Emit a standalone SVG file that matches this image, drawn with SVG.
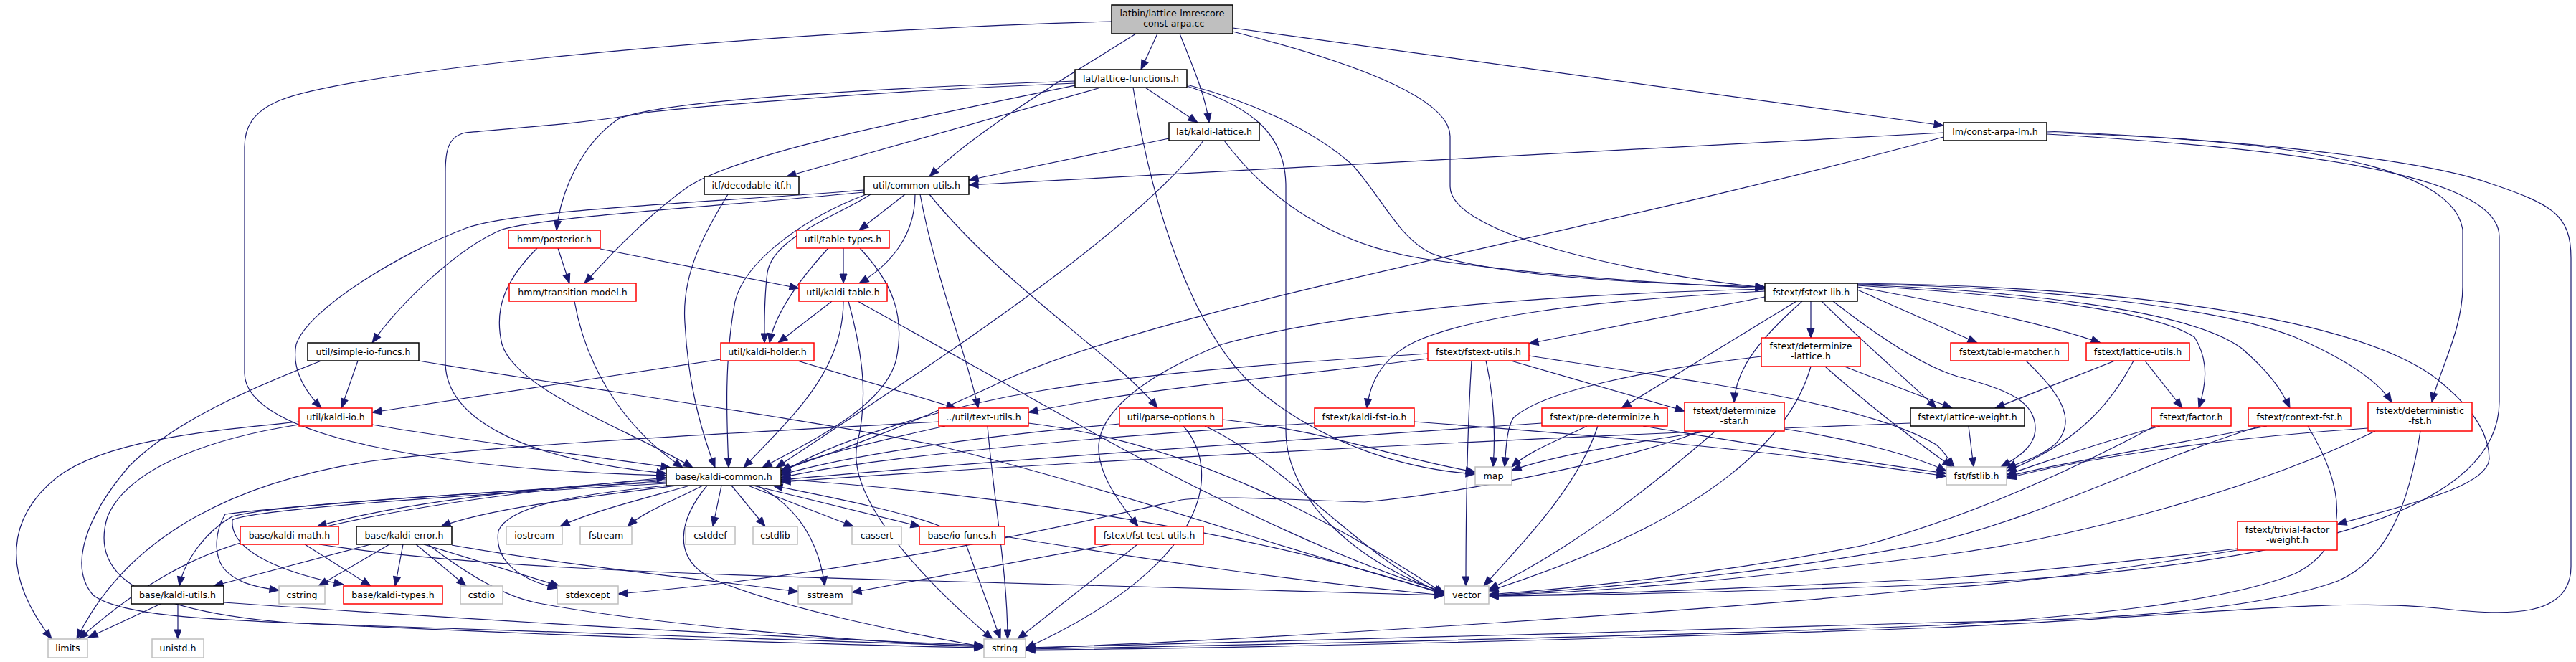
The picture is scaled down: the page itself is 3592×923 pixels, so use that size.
<svg xmlns="http://www.w3.org/2000/svg" width="3592" height="923" viewBox="0 0 3592 923">
<style>
.e path{fill:none;stroke:#191970;stroke-width:1.2;marker-end:url(#a)}
rect{fill:#fff;stroke-width:1.5}
.b rect{stroke:#000}
.r rect{stroke:#ff0000}
.g rect{stroke:#bfbfbf}
.root rect{fill:#bfbfbf;stroke:#000}
text{font-family:"DejaVu Sans","Liberation Sans",sans-serif;font-size:12.6px;fill:#000;text-anchor:middle}
</style>
<defs>
<marker id="a" markerUnits="userSpaceOnUse" markerWidth="15" markerHeight="12" refX="13" refY="5.5" orient="auto" overflow="visible"><path d="M0,0.5L13,5.5L0,10.5z" fill="#191970" stroke="#191970" stroke-width="1"/></marker>
</defs>
<rect x="0" y="0" width="3592" height="923" style="fill:#fff;stroke:none"/>
<g id="edges" class="e">
<path d="M1550,30 C1100,42 500,95 390,140 C352,156 341,178 341,205 L341,520 C341,610 620,655 929,663"/>
<path d="M1614,47 L1591,97"/>
<path d="M1645,47 C1662,90 1680,130 1686,171"/>
<path d="M1584,47 C1500,100 1370,175 1296,246"/>
<path d="M1719,39 L2710,175"/>
<path d="M1719,44 C1900,90 2022,140 2022,190 L2022,260 C2022,330 2300,385 2461,401"/>
<path d="M1597,122 L1670,171"/>
<path d="M1535,122 L1097,246"/>
<path d="M1499,113 C1200,124 920,140 862,166 C812,200 782,265 776,321"/>
<path d="M1499,116 C1200,128 960,150 900,157 C840,170 700,180 649,185 C625,190 621,210 621,240 L621,505 C621,580 720,640 929,660"/>
<path d="M1499,119 C1250,170 1030,215 960,260 C910,295 860,345 815,395"/>
<path d="M1580,122 C1605,280 1660,460 1750,540 C1850,625 1970,655 2057,661"/>
<path d="M1655,118 C1740,140 1830,180 1886,230 C1930,280 1950,330 1995,353 C2080,385 2300,396 2461,400"/>
<path d="M1655,120 C1750,150 1793,190 1793,260 L1793,600 C1793,700 1900,790 2014,826"/>
<path d="M1630,193 L1351,251"/>
<path d="M1678,196 C1580,330 1250,540 1082,652"/>
<path d="M1707,196 C1770,280 1860,340 1980,360 C2150,385 2350,397 2461,402"/>
<path d="M2710,185 L1351,258"/>
<path d="M2710,191 C2200,330 1600,430 1380,540 C1240,605 1150,635 1089,656"/>
<path d="M2854,185 C3200,195 3420,230 3434,320 L3434,400 C3434,460 3400,520 3391,561"/>
<path d="M2854,187 C3250,210 3485,250 3485,330 L3485,560 C3485,700 3250,790 2700,815 C2400,826 2200,830 2076,831"/>
<path d="M2854,183 C3200,198 3400,230 3470,255 C3560,285 3585,300 3585,360 L3585,790 C3585,860 3500,860 3400,848 C3250,832 3050,860 2700,875 C2300,890 1700,905 1430,906"/>
<path d="M1015,271 C985,320 950,380 955,450 C960,550 985,620 997,652"/>
<path d="M1262,271 L1198,321"/>
<path d="M1276,271 C1276,330 1240,370 1198,395"/>
<path d="M1283,271 C1305,390 1350,500 1364,569"/>
<path d="M1296,271 C1400,400 1560,500 1614,569"/>
<path d="M1205,265 C1000,282 720,292 650,318 C560,352 430,430 413,480 C406,515 425,545 448,569"/>
<path d="M1205,268 C1000,288 760,302 700,320 C640,345 560,420 519,478"/>
<path d="M1214,271 C1170,300 1078,330 1070,380 C1065,420 1066,450 1066,478"/>
<path d="M1208,271 C1130,300 1040,360 1025,420 C1010,500 1013,580 1016,652"/>
<path d="M778,346 L794,395"/>
<path d="M749,346 C705,390 688,430 700,480 C720,545 880,600 966,652"/>
<path d="M837,347 L1114,402"/>
<path d="M801,420 C815,500 860,590 952,652"/>
<path d="M1176,346 L1176,395"/>
<path d="M1155,346 C1110,395 1080,440 1073,478"/>
<path d="M1199,346 C1245,395 1262,440 1250,500 C1235,565 1140,610 1063,652"/>
<path d="M1160,420 L1085,478"/>
<path d="M1176,420 C1176,520 1100,585 1037,652"/>
<path d="M1183,420 C1205,500 1210,560 1195,620 C1180,700 1300,820 1384,891"/>
<path d="M1196,420 L1540,612 C1700,700 1890,790 2014,825"/>
<path d="M1005,501 L519,575"/>
<path d="M1112,503 L1333,569"/>
<path d="M519,592 C650,615 820,635 935,652"/>
<path d="M417,588 C300,600 150,612 80,665 C5,725 5,805 72,891"/>
<path d="M417,592 C300,610 180,650 150,720 C125,800 190,850 400,868 C800,888 1200,900 1372,903"/>
<path d="M499,503 L476,569"/>
<path d="M448,503 C340,545 240,590 180,650 C120,720 95,790 130,830 C170,860 300,865 500,872 C900,886 1200,896 1372,901"/>
<path d="M584,503 C800,540 1100,580 1302,620 C1550,680 1800,770 2014,827"/>
<path d="M1309,588 C1000,605 700,620 517,643 C340,670 180,740 107,891"/>
<path d="M1318,594 C1200,620 1120,640 1089,657"/>
<path d="M1377,594 C1386,700 1405,800 1405,891"/>
<path d="M1434,590 C1650,615 1850,720 2014,828"/>
<path d="M1561,591 C1400,605 1200,630 1089,662"/>
<path d="M1650,594 C1700,650 1700,780 1430,904"/>
<path d="M1680,594 C1800,650 1900,780 2014,829"/>
<path d="M1705,585 C1850,600 1950,640 2057,658"/>
<path d="M2461,414 L2132,479"/>
<path d="M2461,406 C2200,420 2047,443 1972,477 C1925,500 1910,535 1906,569"/>
<path d="M2461,403 C2100,412 1850,440 1704,480 C1580,530 1535,580 1532,620 C1530,660 1560,700 1587,734"/>
<path d="M2505,420 L2261,569"/>
<path d="M2513,420 C2445,480 2420,520 2418,561"/>
<path d="M2525,420 L2525,471"/>
<path d="M2540,420 C2600,480 2660,530 2700,569"/>
<path d="M2556,420 C2620,470 2680,510 2730,525 C2800,543 2840,560 2838,600 C2836,625 2810,640 2790,651"/>
<path d="M2590,404 L2757,478"/>
<path d="M2590,400 C2700,420 2850,450 2929,478"/>
<path d="M2590,398 C2750,408 2990,425 3060,470 C3082,505 3075,540 3066,569"/>
<path d="M2590,397 C2800,405 3050,430 3125,485 C3160,515 3180,540 3193,569"/>
<path d="M2590,396 C2850,400 3100,430 3200,470 C3270,500 3315,530 3335,561"/>
<path d="M2590,395 C3000,400 3300,450 3400,530 C3455,575 3471,610 3471,640 C3468,680 3350,705 3259,731"/>
<path d="M1991,493 C1800,505 1600,520 1450,545 C1300,570 1150,620 1089,660"/>
<path d="M1991,500 C1800,525 1600,540 1434,575"/>
<path d="M2072,503 C2085,560 2085,610 2082,651"/>
<path d="M2052,503 C2046,600 2044,700 2044,817"/>
<path d="M2107,503 L2349,573"/>
<path d="M2132,496 C2350,530 2600,560 2700,620 C2712,630 2716,640 2725,651"/>
<path d="M2456,497 C2300,515 2150,545 2110,583 C2100,600 2100,630 2098,651"/>
<path d="M2525,511 C2500,600 2400,720 2076,824"/>
<path d="M2572,511 L2722,569"/>
<path d="M2545,511 C2600,560 2650,600 2722,651"/>
<path d="M1833,590 C1500,610 1200,640 1089,666"/>
<path d="M1972,588 C2200,605 2450,625 2714,664"/>
<path d="M2150,590 C1700,620 1300,650 1089,669"/>
<path d="M2213,594 C2170,615 2130,630 2108,651"/>
<path d="M2228,594 C2200,680 2120,760 2069,817"/>
<path d="M2291,594 C2450,620 2600,645 2714,660"/>
<path d="M2371,601 C2300,630 2100,680 1903,700 C1800,697 1700,690 1647,697 C1500,730 1200,800 862,828"/>
<path d="M2385,601 C2250,620 2150,640 2108,656"/>
<path d="M2392,601 C2300,680 2200,760 2076,822"/>
<path d="M2488,598 C2600,615 2680,640 2714,657"/>
<path d="M2664,590 C2000,615 1400,650 1089,672"/>
<path d="M2745,594 L2752,651"/>
<path d="M2825,503 C2880,555 2895,590 2865,620 C2840,640 2815,645 2798,653"/>
<path d="M2949,503 L2782,569"/>
<path d="M2975,503 C2940,570 2890,620 2798,657"/>
<path d="M2991,503 L3043,569"/>
<path d="M3012,594 C2900,625 2850,645 2798,662"/>
<path d="M3005,594 C2900,650 2750,720 2600,760 C2400,800 2200,820 2076,829"/>
<path d="M3161,594 C3000,625 2850,650 2798,665"/>
<path d="M3152,594 C3000,640 2850,720 2700,755 C2500,795 2250,820 2076,830"/>
<path d="M3218,594 C3270,680 3280,760 3200,800 C3100,840 2900,860 2700,872 C2300,888 1700,900 1430,905"/>
<path d="M3302,597 C3100,610 2900,640 2798,667"/>
<path d="M3312,601 C3150,680 2900,750 2700,775 C2450,805 2250,825 2076,830"/>
<path d="M3375,601 C3360,700 3330,780 3260,810 C3150,850 2950,865 2700,868 C2300,880 1700,898 1430,903"/>
<path d="M3120,765 C2950,785 2800,800 2700,807 C2400,822 2200,829 2076,831"/>
<path d="M3120,767 C2950,795 2800,815 2700,820 C2400,850 1800,890 1430,904"/>
<path d="M1549,759 L1188,826"/>
<path d="M1586,759 L1419,891"/>
<path d="M1312,734 C1250,710 1130,688 1078,677"/>
<path d="M1347,759 L1395,891"/>
<path d="M1401,748 C1600,780 1800,810 2014,830"/>
<path d="M1006,677 L994,734"/>
<path d="M1020,677 L1067,734"/>
<path d="M1043,677 L1190,734"/>
<path d="M1050,677 L1283,734"/>
<path d="M1056,677 C1100,700 1140,740 1150,817"/>
<path d="M986,677 C950,720 930,780 1000,810 C1100,850 1250,880 1372,902"/>
<path d="M962,677 C880,700 820,715 781,734"/>
<path d="M980,677 C935,700 895,715 875,734"/>
<path d="M943,677 C800,695 680,710 615,734"/>
<path d="M929,668 C750,680 560,700 442,734"/>
<path d="M929,670 C700,688 400,700 324,720 C280,745 255,790 250,817"/>
<path d="M929,672 C700,684 400,705 314,717 C300,740 298,770 310,790 C325,810 350,818 389,823"/>
<path d="M929,674 C650,690 350,710 324,725 C320,770 400,800 479,815"/>
<path d="M929,677 C800,690 710,705 695,740 C688,785 730,810 777,820"/>
<path d="M1089,668 C1400,690 1750,740 2014,829"/>
<path d="M335,757 C260,780 190,820 110,891"/>
<path d="M425,759 L517,817"/>
<path d="M455,734 C600,700 780,680 929,666"/>
<path d="M445,759 C630,787 900,800 1300,810 C1600,818 1850,825 2014,830"/>
<path d="M517,759 L298,817"/>
<path d="M543,759 L444,817"/>
<path d="M562,759 L551,817"/>
<path d="M580,759 L650,817"/>
<path d="M591,759 L780,817"/>
<path d="M630,760 C800,790 1000,810 1113,825"/>
<path d="M597,759 C650,800 700,830 746,840 C900,870 1200,895 1372,902"/>
<path d="M224,842 L123,889"/>
<path d="M248,842 L248,891"/>
<path d="M312,840 C600,860 1000,885 1372,900"/>
</g>
<g id="n_root" class="root"><rect x="1550" y="7" width="169" height="40"/><text x="1634.5" y="23">latbin/lattice-lmrescore</text><text x="1634.5" y="37">-const-arpa.cc</text></g>
<g id="n_lattice_functions" class="b"><rect x="1499" y="97" width="156" height="25"/><text x="1577" y="114">lat/lattice-functions.h</text></g>
<g id="n_kaldi_lattice" class="b"><rect x="1630" y="171" width="126" height="25"/><text x="1693" y="188">lat/kaldi-lattice.h</text></g>
<g id="n_const_arpa_lm" class="b"><rect x="2710" y="171" width="144" height="25"/><text x="2782" y="188">lm/const-arpa-lm.h</text></g>
<g id="n_decodable_itf" class="b"><rect x="982" y="246" width="132" height="25"/><text x="1048" y="263">itf/decodable-itf.h</text></g>
<g id="n_common_utils" class="b"><rect x="1205" y="246" width="146" height="25"/><text x="1278" y="263">util/common-utils.h</text></g>
<g id="n_posterior" class="r"><rect x="709" y="321" width="128" height="25"/><text x="773" y="338">hmm/posterior.h</text></g>
<g id="n_table_types" class="r"><rect x="1111" y="321" width="129" height="25"/><text x="1175.5" y="338">util/table-types.h</text></g>
<g id="n_transition_model" class="r"><rect x="710" y="395" width="177" height="25"/><text x="798.5" y="412">hmm/transition-model.h</text></g>
<g id="n_kaldi_table" class="r"><rect x="1114" y="395" width="123" height="25"/><text x="1175.5" y="412">util/kaldi-table.h</text></g>
<g id="n_fstext_lib" class="b"><rect x="2461" y="395" width="129" height="25"/><text x="2525.5" y="412">fstext/fstext-lib.h</text></g>
<g id="n_simple_io_funcs" class="b"><rect x="429" y="478" width="155" height="25"/><text x="506.5" y="495">util/simple-io-funcs.h</text></g>
<g id="n_kaldi_holder" class="r"><rect x="1005" y="478" width="130" height="25"/><text x="1070" y="495">util/kaldi-holder.h</text></g>
<g id="n_fstext_utils" class="r"><rect x="1991" y="478" width="141" height="25"/><text x="2061.5" y="495">fstext/fstext-utils.h</text></g>
<g id="n_determinize_lattice" class="r"><rect x="2456" y="471" width="138" height="40"/><text x="2525" y="487">fstext/determinize</text><text x="2525" y="501">-lattice.h</text></g>
<g id="n_table_matcher" class="r"><rect x="2720" y="478" width="164" height="25"/><text x="2802" y="495">fstext/table-matcher.h</text></g>
<g id="n_lattice_utils" class="r"><rect x="2909" y="478" width="144" height="25"/><text x="2981" y="495">fstext/lattice-utils.h</text></g>
<g id="n_kaldi_io" class="r"><rect x="417" y="569" width="102" height="25"/><text x="468" y="586">util/kaldi-io.h</text></g>
<g id="n_text_utils" class="r"><rect x="1309" y="569" width="125" height="25"/><text x="1371.5" y="586">../util/text-utils.h</text></g>
<g id="n_parse_options" class="r"><rect x="1561" y="569" width="144" height="25"/><text x="1633" y="586">util/parse-options.h</text></g>
<g id="n_kaldi_fst_io" class="r"><rect x="1833" y="569" width="139" height="25"/><text x="1902.5" y="586">fstext/kaldi-fst-io.h</text></g>
<g id="n_pre_determinize" class="r"><rect x="2150" y="569" width="175" height="25"/><text x="2237.5" y="586">fstext/pre-determinize.h</text></g>
<g id="n_determinize_star" class="r"><rect x="2349" y="561" width="139" height="40"/><text x="2418.5" y="577">fstext/determinize</text><text x="2418.5" y="591">-star.h</text></g>
<g id="n_lattice_weight" class="b"><rect x="2664" y="569" width="159" height="25"/><text x="2743.5" y="586">fstext/lattice-weight.h</text></g>
<g id="n_factor" class="r"><rect x="3000" y="569" width="111" height="25"/><text x="3055.5" y="586">fstext/factor.h</text></g>
<g id="n_context_fst" class="r"><rect x="3135" y="569" width="143" height="25"/><text x="3206.5" y="586">fstext/context-fst.h</text></g>
<g id="n_deterministic_fst" class="r"><rect x="3302" y="561" width="145" height="40"/><text x="3374.5" y="577">fstext/deterministic</text><text x="3374.5" y="591">-fst.h</text></g>
<g id="n_kaldi_common" class="b"><rect x="929" y="652" width="160" height="25"/><text x="1009" y="669">base/kaldi-common.h</text></g>
<g id="n_map" class="g"><rect x="2057" y="651" width="51" height="25"/><text x="2082.5" y="668">map</text></g>
<g id="n_fstlib" class="g"><rect x="2714" y="651" width="84" height="25"/><text x="2756" y="668">fst/fstlib.h</text></g>
<g id="n_trivial_factor_weight" class="r"><rect x="3120" y="727" width="139" height="40"/><text x="3189.5" y="743">fstext/trivial-factor</text><text x="3189.5" y="757">-weight.h</text></g>
<g id="n_kaldi_math" class="r"><rect x="335" y="734" width="137" height="25"/><text x="403.5" y="751">base/kaldi-math.h</text></g>
<g id="n_kaldi_error" class="b"><rect x="497" y="734" width="133" height="25"/><text x="563.5" y="751">base/kaldi-error.h</text></g>
<g id="n_iostream" class="g"><rect x="706" y="734" width="78" height="25"/><text x="745" y="751">iostream</text></g>
<g id="n_fstream" class="g"><rect x="809" y="734" width="72" height="25"/><text x="845" y="751">fstream</text></g>
<g id="n_cstddef" class="g"><rect x="956" y="734" width="69" height="25"/><text x="990.5" y="751">cstddef</text></g>
<g id="n_cstdlib" class="g"><rect x="1050" y="734" width="62" height="25"/><text x="1081" y="751">cstdlib</text></g>
<g id="n_cassert" class="g"><rect x="1188" y="734" width="69" height="25"/><text x="1222.5" y="751">cassert</text></g>
<g id="n_io_funcs" class="r"><rect x="1282" y="734" width="119" height="25"/><text x="1341.5" y="751">base/io-funcs.h</text></g>
<g id="n_fst_test_utils" class="r"><rect x="1527" y="734" width="151" height="25"/><text x="1602.5" y="751">fstext/fst-test-utils.h</text></g>
<g id="n_kaldi_utils" class="b"><rect x="183" y="817" width="129" height="25"/><text x="247.5" y="834">base/kaldi-utils.h</text></g>
<g id="n_cstring" class="g"><rect x="389" y="817" width="64" height="25"/><text x="421" y="834">cstring</text></g>
<g id="n_kaldi_types" class="r"><rect x="479" y="817" width="138" height="25"/><text x="548" y="834">base/kaldi-types.h</text></g>
<g id="n_cstdio" class="g"><rect x="642" y="817" width="59" height="25"/><text x="671.5" y="834">cstdio</text></g>
<g id="n_stdexcept" class="g"><rect x="777" y="817" width="85" height="25"/><text x="819.5" y="834">stdexcept</text></g>
<g id="n_sstream" class="g"><rect x="1113" y="817" width="75" height="25"/><text x="1150.5" y="834">sstream</text></g>
<g id="n_vector" class="g"><rect x="2014" y="817" width="62" height="25"/><text x="2045" y="834">vector</text></g>
<g id="n_limits" class="g"><rect x="67" y="891" width="55" height="26"/><text x="94.5" y="908">limits</text></g>
<g id="n_unistd" class="g"><rect x="212" y="891" width="72" height="26"/><text x="248" y="908">unistd.h</text></g>
<g id="n_string" class="g"><rect x="1372" y="891" width="58" height="26"/><text x="1401" y="908">string</text></g>
</svg>
